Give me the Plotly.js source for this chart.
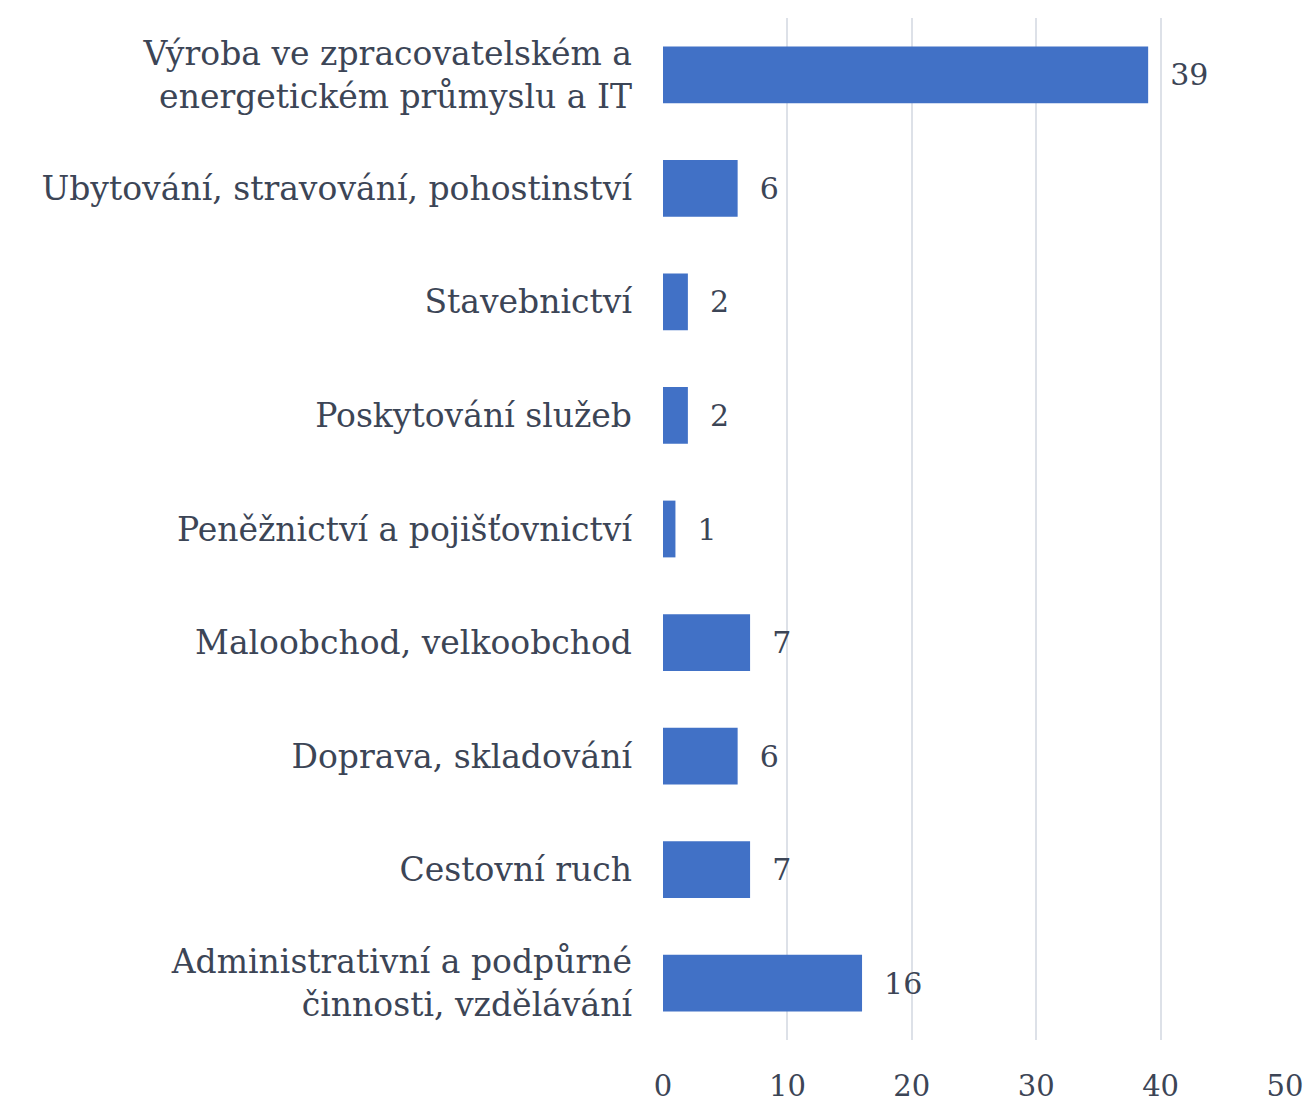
<!DOCTYPE html>
<html><head><meta charset="utf-8">
<script src="https://cdn.plot.ly/plotly-3.0.1.min.js"></script>
<style>html,body{margin:0;padding:0;background:#fff}#chart{width:1313px;height:1104px}</style>
</head><body><div id="chart"></div>
<script>
const categories = [
  "Výroba ve zpracovatelském a<br>energetickém průmyslu a IT",
  "Ubytování, stravování, pohostinství",
  "Stavebnictví",
  "Poskytování služeb",
  "Peněžnictví a pojišťovnictví",
  "Maloobchod, velkoobchod",
  "Doprava, skladování",
  "Cestovní ruch",
  "Administrativní a podpůrné<br>činnosti, vzdělávání"
];
const values = [39, 6, 2, 2, 1, 7, 6, 7, 16];
const xTicks = [0, 10, 20, 30, 40, 50];

const fontFam = "'DejaVu Serif', 'Liberation Serif', serif";
const textColor = "#3c4556";

Plotly.newPlot('chart', [{
  type: 'bar',
  orientation: 'h',
  x: values,
  y: categories,
  width: 0.5,
  marker: {color: '#4171c6', line: {width: 0}},
  text: values.map(v => '\u00a0\u00a0' + v),
  textposition: 'outside',
  cliponaxis: false,
  textfont: {family: fontFam, size: 30, color: textColor},
  hoverinfo: 'none'
}], {
  width: 1313, height: 1104,
  margin: {l: 663, r: 28, t: 18, b: 64},
  paper_bgcolor: '#fff', plot_bgcolor: '#fff',
  showlegend: false,
  font: {family: fontFam, size: 33, color: textColor},
  xaxis: {
    range: [0, 50], tickvals: xTicks, ticktext: xTicks.map(String),
    showgrid: true, gridcolor: '#dde1e8', gridwidth: 2,
    zeroline: false, showline: false, ticks: '',
    ticklabelstandoff: 26,
    tickfont: {family: fontFam, size: 29, color: textColor}
  },
  yaxis: {
    autorange: 'reversed', type: 'category',
    showgrid: false, zeroline: false, showline: false, ticks: '',
    ticklabelstandoff: 30,
    tickfont: {family: fontFam, size: 33, color: textColor}
  }
}, {displayModeBar: false, staticPlot: true});
</script></body></html>
